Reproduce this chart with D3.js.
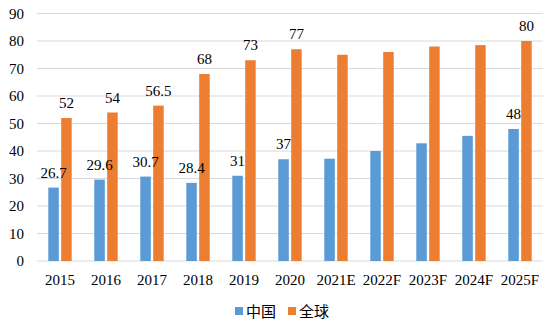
<!DOCTYPE html>
<html><head><meta charset="utf-8">
<script src="https://cdn.jsdelivr.net/npm/d3@7"></script>
<style>body{margin:0;background:#fff}svg{display:block}</style>
</head><body>
<script>
const categories = ["2015","2016","2017","2018","2019","2020","2021E","2022F","2023F","2024F","2025F"];
const chinaValues = [26.7,29.6,30.7,28.4,31,37,37.2,40,42.8,45.5,48];
const globalValues = [52,54,56.5,68,73,77,75,76,78,78.5,80];
const chinaLabels = ["26.7","29.6","30.7","28.4","31","37",null,null,null,null,"48"];
const globalLabels = ["52","54","56.5","68","73","77",null,null,null,null,"80"];
const seriesNames = ["中国","全球"];
const colors = ["#5b9bd5","#ed7d31"];
const yTicks = [0,10,20,30,40,50,60,70,80,90];

const W=555,H=327;
const svg=d3.select("body").append("svg").attr("width",W).attr("height",H);
const x=d3.scaleBand().domain(categories).range([37,543]);
const y=d3.scaleLinear().domain([0,90]).range([261,13.5]);
const font="'Liberation Serif','Times New Roman',serif";

// gridlines
svg.append("g").selectAll("line").data(yTicks).join("line")
  .attr("x1",37).attr("x2",543).attr("y1",d=>y(d)).attr("y2",d=>y(d))
  .attr("stroke","#d9d9d9").attr("stroke-width",1);

// y axis labels
const yAxis=d3.axisLeft(y).tickValues(yTicks).tickSize(0).tickPadding(0);
const gy=svg.append("g").attr("transform","translate(24,0)").call(yAxis);
gy.select(".domain").remove();
gy.selectAll("text").attr("font-family",font).attr("font-size",15).attr("fill","#000");

// x axis labels
const xAxis=d3.axisBottom(x).tickSize(0).tickPadding(0);
const gx=svg.append("g").attr("transform","translate(0,274)").call(xAxis);
gx.select(".domain").remove();
gx.selectAll("text").attr("font-family",font).attr("font-size",15).attr("fill","#000").attr("dy","0.71em");

const bw=10.5, gap=1.2;
const series=[chinaValues,globalValues];
const labels=[chinaLabels,globalLabels];
const xo = (c,si) => x(c)+x.bandwidth()/2 + (si===0 ? -gap-bw : gap);
const barLayer=svg.append("g"), labelLayer=svg.append("g");
series.forEach((vals,si)=>{
  barLayer.append("g").selectAll("rect").data(categories).join("rect")
    .attr("x",c=>xo(c,si)).attr("width",bw)
    .attr("y",(c,i)=>y(vals[i])).attr("height",(c,i)=>y(0)-y(vals[i]))
    .attr("fill",colors[si]);
  labelLayer.append("g").selectAll("text").data(categories.filter((c,i)=>labels[si][i]!==null)).join("text")
    .attr("x",c=>xo(c,si)+bw/2)
    .attr("y",c=>y(vals[categories.indexOf(c)])-10)
    .attr("text-anchor","middle").attr("font-family",font).attr("font-size",15).attr("fill","#000")
    .text(c=>labels[si][categories.indexOf(c)]);
});

// legend
const leg=svg.append("g");
const legX=[235,288];
seriesNames.forEach((n,i)=>{
  leg.append("rect").attr("x",legX[i]).attr("y",307).attr("width",8).attr("height",8).attr("fill",colors[i]);
  leg.append("text").attr("x",legX[i]+11).attr("y",316.5).attr("font-family","'Noto Sans CJK SC',sans-serif")
    .attr("font-size",15).attr("fill","#000").text(n);
});
</script>
</body></html>
